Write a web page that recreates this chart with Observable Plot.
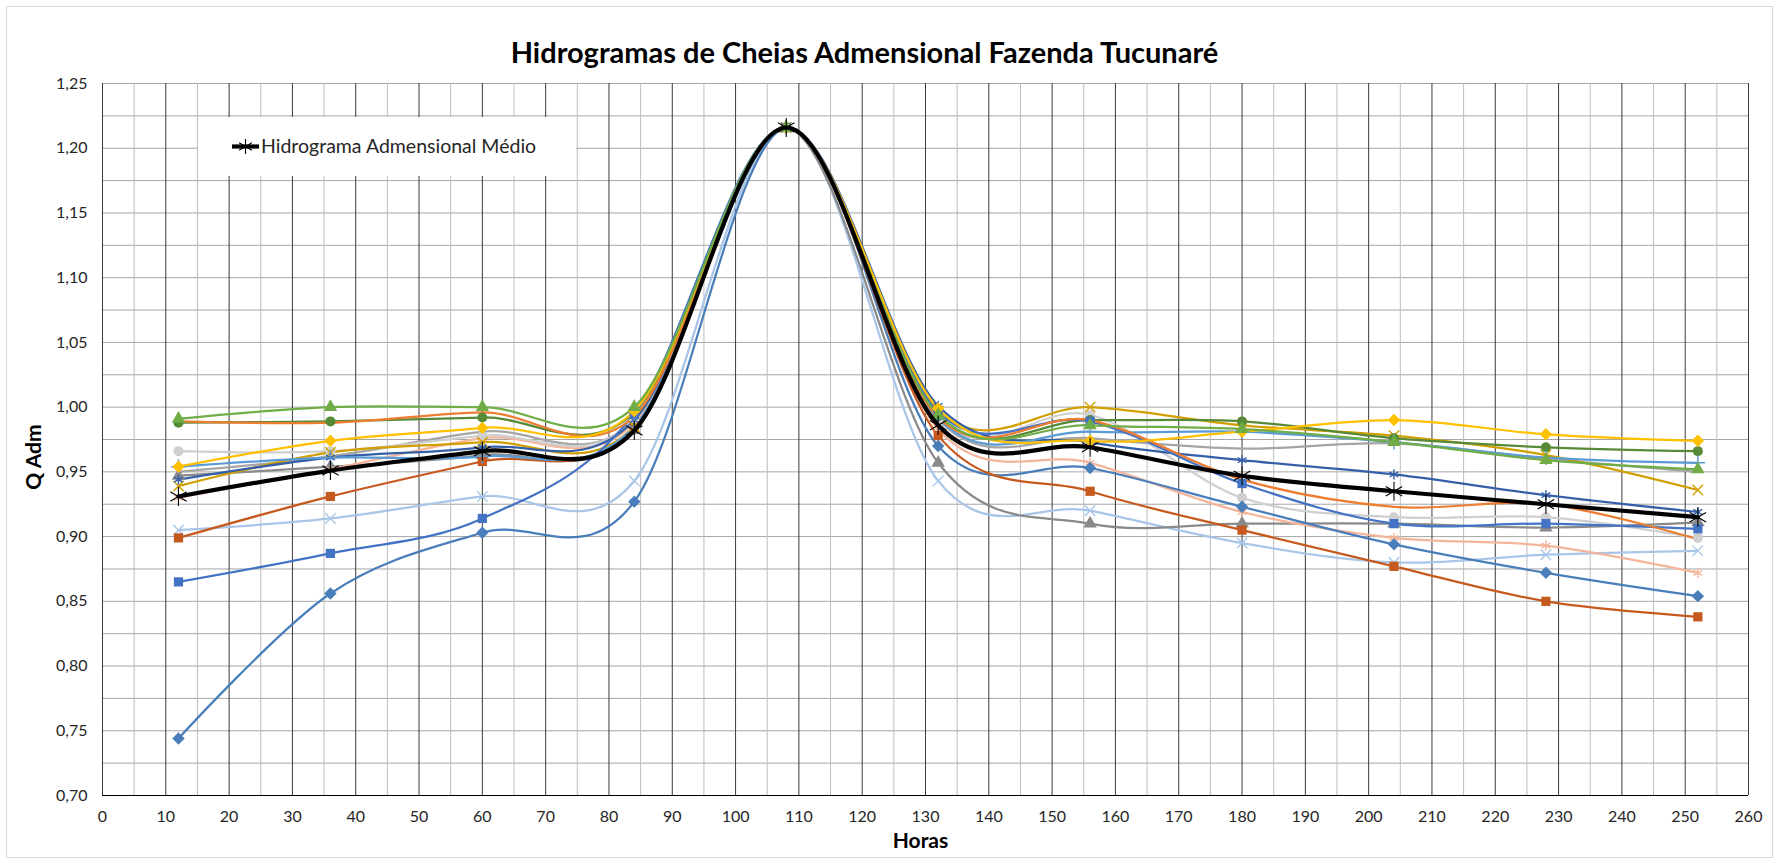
<!DOCTYPE html>
<html>
<head>
<meta charset="utf-8">
<script src="https://cdn.jsdelivr.net/npm/d3@7"></script>
<script src="https://cdn.jsdelivr.net/npm/@observablehq/plot@0.6"></script>
<style>
  html, body { margin: 0; padding: 0; background: #fff; }
  #chart { position: relative; width: 1777px; height: 863px; }
</style>
</head>
<body>
<div id="chart"></div>
<script>
// ---------------- DATA ----------------
const chartTitle = "Hidrogramas de Cheias Admensional Fazenda Tucunaré";
const xLabel = "Horas";
const yLabel = "Q Adm";
const legendLabel = "Hidrograma Admensional Médio";

const hours = [12, 36, 60, 84, 108, 132, 156, 180, 204, 228, 252];
const xTicks = [0, 10, 20, 30, 40, 50, 60, 70, 80, 90, 100, 110, 120, 130, 140, 150, 160, 170, 180, 190, 200, 210, 220, 230, 240, 250, 260];
const yTicks = [0.70, 0.75, 0.80, 0.85, 0.90, 0.95, 1.00, 1.05, 1.10, 1.15, 1.20, 1.25];

const palePlusX   = [0.905, 0.914, 0.931, 0.943, 1.216, 0.943, 0.920, 0.895, 0.880, 0.886, 0.889];
const grayTri     = [0.947, 0.954, 0.963, 0.982, 1.216, 0.957, 0.910, 0.910, 0.910, 0.907, 0.911];
const midGray     = [0.950, 0.962, 0.981, 0.990, 1.216, 0.990, 0.976, 0.968, 0.972, 0.960, 0.950];
const salmonStar  = [0.930, 0.952, 0.976, 0.988, 1.216, 0.983, 0.957, 0.919, 0.899, 0.893, 0.872];
const lightGrayO  = [0.966, 0.966, 0.978, 0.990, 1.216, 0.990, 0.994, 0.930, 0.915, 0.915, 0.899];
const steelDiam   = [0.744, 0.856, 0.903, 0.927, 1.216, 0.970, 0.953, 0.923, 0.894, 0.872, 0.854];
const rustSquare  = [0.899, 0.931, 0.958, 0.984, 1.216, 0.978, 0.935, 0.905, 0.877, 0.850, 0.838];
const goldX       = [0.939, 0.965, 0.973, 0.985, 1.216, 0.997, 1.000, 0.986, 0.978, 0.963, 0.936];
const darkBlueStar= [0.944, 0.961, 0.969, 0.990, 1.216, 1.001, 0.973, 0.959, 0.948, 0.932, 0.919];
const darkGreenO  = [0.988, 0.989, 0.992, 0.996, 1.216, 0.993, 0.990, 0.989, 0.976, 0.969, 0.966];
const lightBlueP  = [0.954, 0.961, 0.962, 0.985, 1.216, 0.991, 0.981, 0.981, 0.973, 0.961, 0.957];
const blueSquare  = [0.865, 0.887, 0.914, 0.995, 1.216, 0.996, 0.989, 0.941, 0.910, 0.910, 0.906];
const orangeLine  = [0.989, 0.988, 0.996, 0.993, 1.216, 0.992, 0.990, 0.944, 0.923, 0.925, 0.898];
const yellowDiam  = [0.954, 0.974, 0.984, 0.997, 1.216, 0.999, 0.974, 0.981, 0.990, 0.979, 0.974];
const greenTri    = [0.991, 1.000, 1.000, 1.000, 1.216, 0.994, 0.986, 0.983, 0.973, 0.959, 0.952];
const meanSeries  = [0.931, 0.951, 0.966, 0.982, 1.216, 0.986, 0.969, 0.947, 0.935, 0.925, 0.915];

// series values, drawing order
const seriesValues = [palePlusX, grayTri, midGray, salmonStar, lightGrayO, steelDiam, rustSquare, goldX,
                      darkBlueStar, darkGreenO, lightBlueP, blueSquare, orangeLine, yellowDiam, greenTri];
// styles (kept separate from values)
const seriesColors = ["#A9C6E8", "#8A8A8A", "#A5A5A5", "#F4B59A", "#CFCFCF", "#4A7EBA", "#C65A1E", "#D29F00",
                      "#3560A8", "#568A36", "#5B9BD5", "#4472C4", "#ED7D31", "#FFC000", "#70AD47"];
const seriesSymbols = ["times", "triangle", null, "asterisk", "circle", "diamond2", "square", "times",
                       "asterisk", "circle", "plus", "square", null, "diamond2", "triangle"];

const toRows = vals => vals.map((v, j) => ({hora: hours[j], q: v}));
const strokeSyms = new Set(["times", "asterisk", "plus"]);

const fmt = d => d.toFixed(2).replace(".", ",");
const FONT = "Lato, 'Open Sans', sans-serif";

const marks = [];
// grid
marks.push(Plot.ruleY(d3.range(0, 23).map(i => 0.70 + i * 0.025), {stroke: "#A6A6A6", strokeWidth: 1}));
marks.push(Plot.ruleX(d3.range(0, 53).map(i => i * 5).filter(v => v % 10 !== 0), {stroke: "#BDBDBD", strokeWidth: 1}));
marks.push(Plot.ruleX(xTicks, {stroke: "#3A3A3A", strokeWidth: 1}));
marks.push(Plot.ruleY([0.70], {stroke: "#000", strokeWidth: 1.2}));

// series
seriesValues.forEach((vals, i) => {
  const rows = toRows(vals);
  marks.push(Plot.line(rows, {x: "hora", y: "q", stroke: seriesColors[i], strokeWidth: 2.25, curve: "cardinal"}));
});
seriesValues.forEach((vals, i) => {
  const sym = seriesSymbols[i];
  if (!sym) return;
  const rows = toRows(vals);
  if (strokeSyms.has(sym)) {
    marks.push(Plot.dot(rows, {x: "hora", y: "q", symbol: sym, r: 4.8, stroke: seriesColors[i], strokeWidth: 1.4, fill: "none"}));
  } else {
    const r = sym === "square" ? 5.2 : sym === "diamond2" ? 5.6 : 5;
    marks.push(Plot.dot(rows, {x: "hora", y: "q", symbol: sym, r, fill: seriesColors[i], stroke: "none"}));
  }
});
// mean
const meanRows = toRows(meanSeries);
marks.push(Plot.line(meanRows, {x: "hora", y: "q", stroke: "#000", strokeWidth: 4.2, curve: "cardinal"}));
marks.push(Plot.dot(meanRows, {x: "hora", y: "q", symbol: "asterisk", r: 9, stroke: "#000", strokeWidth: 1.1, fill: "none"}));

// texts
marks.push(Plot.text([chartTitle], {frameAnchor: "top", dx: -61, dy: -41, fontSize: 29, fontWeight: "bold", fill: "#000"}));
marks.push(Plot.text([xLabel], {frameAnchor: "bottom", dx: -5, dy: 52, fontSize: 21, fontWeight: "bold", fill: "#000"}));

marks.push(Plot.axisX(xTicks, {tickSize: 0, tickPadding: 15, fontSize: 16, fill: "#262626", label: null}));
marks.push(Plot.axisY(yTicks, {tickSize: 0, tickPadding: 15, fontSize: 16, fill: "#262626", tickFormat: fmt, label: null}));

const svgPlot = Plot.plot({
  width: 1777,
  height: 863,
  marginLeft: 102,
  marginRight: 29,
  marginTop: 83,
  marginBottom: 68,
  style: {fontFamily: FONT, fontSize: "16px", background: "#fff", color: "#262626"},
  x: {domain: [0, 260]},
  y: {domain: [0.70, 1.25]},
  marks
});

document.getElementById("chart").appendChild(svgPlot);

const svg = d3.select(svgPlot);
// outer chart border
svg.insert("rect", ":first-child")
  .attr("x", 6.5).attr("y", 6.5).attr("width", 1766).attr("height", 851)
  .attr("fill", "none").attr("stroke", "#D9D9D9").attr("stroke-width", 1);

// y axis title
svg.append("text")
  .attr("transform", "translate(34,457) rotate(-90)")
  .attr("text-anchor", "middle").attr("dy", "0.35em")
  .attr("font-family", FONT).attr("font-size", 21).attr("font-weight", "bold").attr("fill", "#000")
  .text(yLabel);

// legend
const lg = svg.append("g").attr("aria-label", "legend");
lg.append("rect").attr("x", 198).attr("y", 117).attr("width", 378).attr("height", 59).attr("fill", "#fff");
lg.append("line").attr("x1", 232).attr("x2", 259).attr("y1", 146.5).attr("y2", 146.5)
  .attr("stroke", "#000").attr("stroke-width", 4.2);
lg.append("path").attr("d", d3.symbol(d3.symbolAsterisk, Math.PI * 7 * 7)())
  .attr("transform", "translate(245.5,146.5)").attr("stroke", "#000").attr("stroke-width", 1.1).attr("fill", "none");
lg.append("text").attr("x", 261).attr("y", 146.5).attr("dy", "0.35em").attr("text-anchor", "start")
  .attr("font-family", FONT).attr("font-size", 19.5).attr("fill", "#262626").text(legendLabel);
</script>
</body>
</html>
